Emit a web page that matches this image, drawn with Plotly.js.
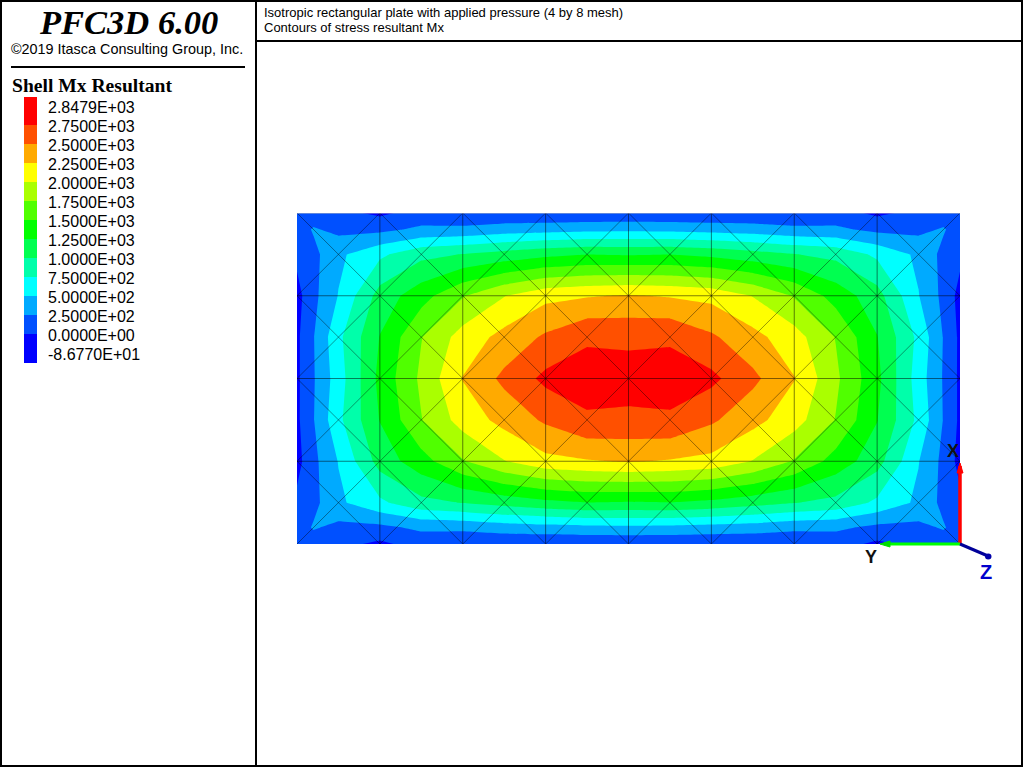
<!DOCTYPE html>
<html>
<head>
<meta charset="utf-8">
<script src="https://cdn.plot.ly/plotly-3.0.1.min.js"></script>
<style>html,body{margin:0;padding:0;background:#fff;overflow:hidden}</style>
</head>
<body>
<div id="chart" style="width:1024px;height:768px"></div>
<script>
// Mesh positions (half-cell units along the plate)
var plateX = [0,0.4,1,2,3,4,5,6,7,8,9,10,11,12,13,14,15,15.6,16];
var plateY = [0,0.4,1,2,3,4,5,6,7,7.6,8];

// Stress resultant Mx
var row00 = [130,110,70,-50,100,25,30,25,30,30,30,25,30,25,100,-50,70,110,130];
var row01 = [120,275,185,190,300,315,380,410,440,450,440,410,380,315,300,190,185,275,120];
var row02 = [60,180,450,700,930,1010,1100,1190,1250,1230,1250,1190,1100,1010,930,700,450,180,60];
var row03 = [-86,185,510,1100,1400,1730,1990,2180,2230,2270,2230,2180,1990,1730,1400,1100,510,185,-86];
var row04 = [-50,240,690,1260,1740,2105,2330,2540,2723,2702,2723,2540,2330,2105,1740,1260,690,240,-50];
var row05 = [-50,230,630,1320,1800,2260,2560,2810,2835,2847.9,2835,2810,2560,2260,1800,1320,630,230,-50];
var row06 = [-50,240,690,1260,1740,2105,2330,2540,2723,2702,2723,2540,2330,2105,1740,1260,690,240,-50];
var row07 = [-86,185,510,1100,1400,1730,1990,2180,2230,2270,2230,2180,1990,1730,1400,1100,510,185,-86];
var row08 = [60,180,450,700,930,1010,1100,1190,1250,1230,1250,1190,1100,1010,930,700,450,180,60];
var row09 = [120,275,185,190,300,315,380,410,440,450,440,410,380,315,300,190,185,275,120];
var row10 = [130,110,70,-50,100,25,30,25,30,30,30,25,30,25,100,-50,70,110,130];

var legendLabels = ["2.8479E+03","2.7500E+03","2.5000E+03","2.2500E+03","2.0000E+03","1.7500E+03","1.5000E+03","1.2500E+03","1.0000E+03","7.5000E+02","5.0000E+02","2.5000E+02","0.0000E+00","-8.6770E+01"];
var bandColors = ["#ff0000","#ff5000","#ffaa00","#ffff00","#aaff00","#50ff00","#00ff00","#00ff50","#00ffaa","#00ffff","#00aaff","#0050ff","#0000ff"];
var meshCols = [0,2,4,6,8,10,12,14,16];
var meshRows = [0,2,4,6,8];

var W = 1024, H = 768;
function fx(p){return p/W;}
function fy(p){return 1-p/H;}

// Band colour scale (bottom band first)
var ascending = bandColors.slice().reverse();
var scale = ascending.map(function(c,i){ return [i/(ascending.length-1), c]; });

var contour = {
  type:'contour', x:plateX, y:plateY,
  z:[row00,row01,row02,row03,row04,row05,row06,row07,row08,row09,row10],
  autocontour:false,
  contours:{start:0,end:2750,size:250,coloring:'fill',showlines:false},
  line:{width:0,smoothing:0},
  colorscale:scale, showscale:false, hoverinfo:'skip'
};

// Mesh lines
var gx=[],gy=[],dx=[],dy=[];
meshCols.forEach(function(c,i){ if(i>0&&i<meshCols.length-1){ gx.push(c,c,null); gy.push(0,8,null);} });
meshRows.forEach(function(r,i){ if(i>0&&i<meshRows.length-1){ gx.push(0,16,null); gy.push(r,r,null);} });
for (var a=0;a<meshCols.length-1;a++){ for (var b=0;b<meshRows.length-1;b++){
  dx.push(meshCols[a],meshCols[a+1],null); dy.push(meshRows[b],meshRows[b+1],null);
  dx.push(meshCols[a+1],meshCols[a],null); dy.push(meshRows[b],meshRows[b+1],null);
}}
var meshGrid = {type:'scatter',mode:'lines',x:gx,y:gy,line:{color:'rgba(0,0,0,0.5)',width:1},hoverinfo:'skip'};
var meshDiag = {type:'scatter',mode:'lines',x:dx,y:dy,line:{color:'rgba(0,0,0,0.5)',width:0.8},hoverinfo:'skip'};
var topEdge = {type:'scatter',mode:'lines',x:[0,16],y:[0,0],line:{color:'#bbbbbb',width:1},hoverinfo:'skip',cliponaxis:false};

var black='#000000';
var shapes = [
  {type:'rect',xref:'paper',yref:'paper',x0:fx(1),x1:fx(1022),y0:fy(1),y1:fy(766),line:{color:black,width:2}},
  {type:'line',xref:'paper',yref:'paper',x0:fx(256),x1:fx(256),y0:fy(1),y1:fy(766),line:{color:black,width:2}},
  {type:'line',xref:'paper',yref:'paper',x0:fx(256),x1:fx(1022),y0:fy(41),y1:fy(41),line:{color:black,width:2}},
  {type:'line',xref:'paper',yref:'paper',x0:fx(11),x1:fx(245),y0:fy(67),y1:fy(67),line:{color:black,width:2}},
  // triad
  {type:'line',xref:'paper',yref:'paper',x0:fx(960),x1:fx(960),y0:fy(544),y1:fy(466),line:{color:'#ff0000',width:3.5}},
  {type:'path',xref:'paper',yref:'paper',fillcolor:'#ff0000',line:{color:'#ff0000',width:1},
    path:'M '+fx(960)+' '+fy(463)+' L '+fx(963)+' '+fy(473)+' L '+fx(957)+' '+fy(473)+' Z'},
  {type:'line',xref:'paper',yref:'paper',x0:fx(960),x1:fx(884),y0:fy(544),y1:fy(544),line:{color:'#00ff00',width:3}},
  {type:'path',xref:'paper',yref:'paper',fillcolor:'#00dd00',line:{color:'#00dd00',width:1},
    path:'M '+fx(880)+' '+fy(544)+' L '+fx(890)+' '+fy(541)+' L '+fx(890)+' '+fy(547)+' Z'},
  {type:'line',xref:'paper',yref:'paper',x0:fx(960),x1:fx(988),y0:fy(544),y1:fy(556),line:{color:'#000099',width:3}},
  {type:'circle',xref:'paper',yref:'paper',x0:fx(985),x1:fx(991.5),y0:fy(553.5),y1:fy(559.5),fillcolor:'#0000aa',line:{color:'#0000aa',width:0}}
];
// Legend swatches
var swatchEdges = [97,125,144,163,182,201,220,239,258,277,296,315,334,363];
bandColors.forEach(function(col,k){
  shapes.push({type:'rect',xref:'paper',yref:'paper',x0:fx(24),x1:fx(37),y0:fy(swatchEdges[k]),y1:fy(swatchEdges[k+1]),fillcolor:col,line:{width:0}});
});

function txt(s,x,y,size,family,color,anchor){
  return {text:s,xref:'paper',yref:'paper',x:fx(x),y:fy(y),showarrow:false,xanchor:anchor||'left',yanchor:'middle',
    font:{size:size,family:family,color:color||black},borderpad:0};
}
var SANS='Liberation Sans', SERIF='Liberation Serif';
var annotations = [
  txt('<b><i>PFC3D 6.00</i></b>',128,22,34.5,SERIF,black,'center'),
  txt('©2019 Itasca Consulting Group, Inc.',10,49,14.4,SANS),
  txt('<b>Shell Mx Resultant</b>',11,86,19.6,SERIF),
  txt('Isotropic rectangular plate with applied pressure (4 by 8 mesh)',263,12,13,SANS),
  txt('Contours of stress resultant Mx',263,27,13,SANS),
  txt('<b>X</b>',953,451,18,SANS,'#111111','center'),
  txt('<b>Y</b>',871,557,18,SANS,'#111111','center'),
  txt('<b>Z</b>',986,572,20,SANS,'#0000cc','center')
];
legendLabels.forEach(function(l,k){ annotations.push(txt(l,47,107.4+19*k,16,SANS)); });

var layout = {
  width:W,height:H,margin:{l:0,r:0,t:0,b:0},paper_bgcolor:'#ffffff',plot_bgcolor:'#ffffff',showlegend:false,
  xaxis:{domain:[297/W,960/W],range:[0,16],visible:false,fixedrange:true},
  yaxis:{domain:[1-544/H,1-213/H],range:[8,0],visible:false,fixedrange:true},
  shapes:shapes,annotations:annotations,hovermode:false
};
Plotly.newPlot('chart',[contour,meshDiag,meshGrid,topEdge],layout,{displayModeBar:false,staticPlot:true});
</script>
</body>
</html>
